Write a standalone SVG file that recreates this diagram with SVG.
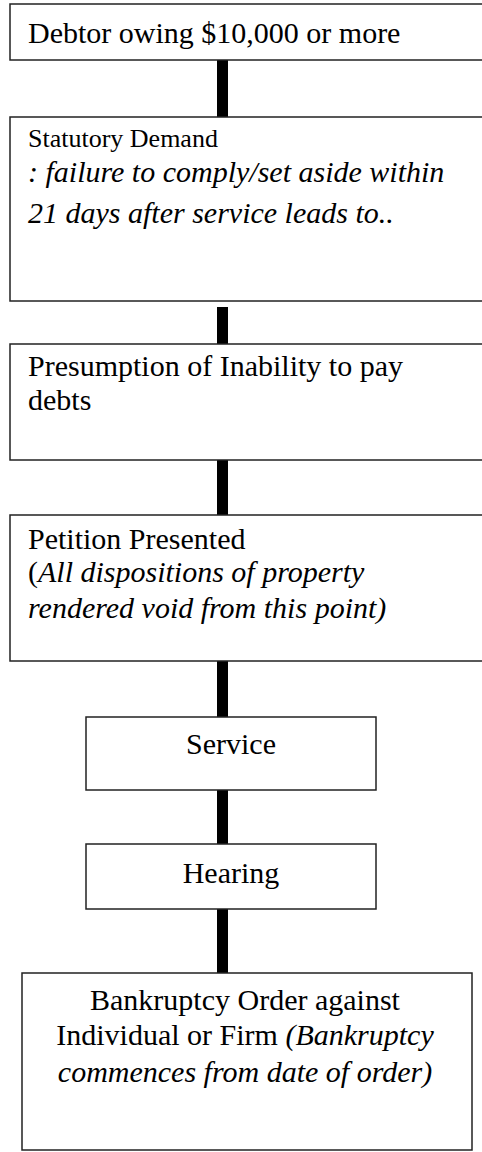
<svg xmlns="http://www.w3.org/2000/svg" width="482" height="1152" viewBox="0 0 482 1152">
  <style>
    .box { fill: #ffffff; stroke: #222222; stroke-width: 1.5; }
    .link { stroke: #000000; stroke-width: 11; fill: none; }
    text { font-family: "Liberation Serif", "Times New Roman", serif; font-size: 30px; fill: #000000; }
    .small { font-size: 26px; }
    .it { font-style: italic; }
    .mid { text-anchor: middle; }
  </style>
  <rect width="482" height="1152" fill="#ffffff"/>

  <!-- vertical links between the stages -->
  <g id="connectors">
    <line class="link" x1="222.5" y1="60" x2="222.5" y2="117"/>
    <line class="link" x1="222.5" y1="307" x2="222.5" y2="344"/>
    <line class="link" x1="222.5" y1="460" x2="222.5" y2="515"/>
    <line class="link" x1="222.5" y1="661" x2="222.5" y2="717"/>
    <line class="link" x1="222.5" y1="790" x2="222.5" y2="844"/>
    <line class="link" x1="222.5" y1="909" x2="222.5" y2="973"/>
  </g>

  <g id="debtor">
    <rect class="box" x="10" y="4" width="480" height="56"/>
    <text x="28" y="43">Debtor owing $10,000 or more</text>
  </g>

  <g id="statutory-demand">
    <rect class="box" x="10" y="117" width="480" height="184"/>
    <text class="small" x="28" y="147">Statutory Demand</text>
    <text class="it" x="28" y="182">: failure to comply/set aside within</text>
    <text class="it" x="28" y="223">21 days after service leads to..</text>
  </g>

  <g id="presumption">
    <rect class="box" x="10" y="344" width="480" height="116"/>
    <text x="28" y="376">Presumption of Inability to pay</text>
    <text x="28" y="410">debts</text>
  </g>

  <g id="petition">
    <rect class="box" x="10" y="515" width="480" height="146"/>
    <text x="28" y="549">Petition Presented</text>
    <text x="28" y="582">(<tspan class="it">All dispositions of property</tspan></text>
    <text class="it" x="28" y="618">rendered void from this point)</text>
  </g>

  <g id="service">
    <rect class="box" x="86" y="717" width="290" height="73"/>
    <text class="mid" x="231" y="754">Service</text>
  </g>

  <g id="hearing">
    <rect class="box" x="86" y="844" width="290" height="65"/>
    <text class="mid" x="231" y="883">Hearing</text>
  </g>

  <g id="bankruptcy-order">
    <rect class="box" x="22" y="973" width="450" height="177"/>
    <text class="mid" x="245" y="1010">Bankruptcy Order against</text>
    <text class="mid" x="245" y="1045">Individual or Firm <tspan class="it">(Bankruptcy</tspan></text>
    <text class="mid it" x="245" y="1082">commences from date of order)</text>
  </g>
</svg>
